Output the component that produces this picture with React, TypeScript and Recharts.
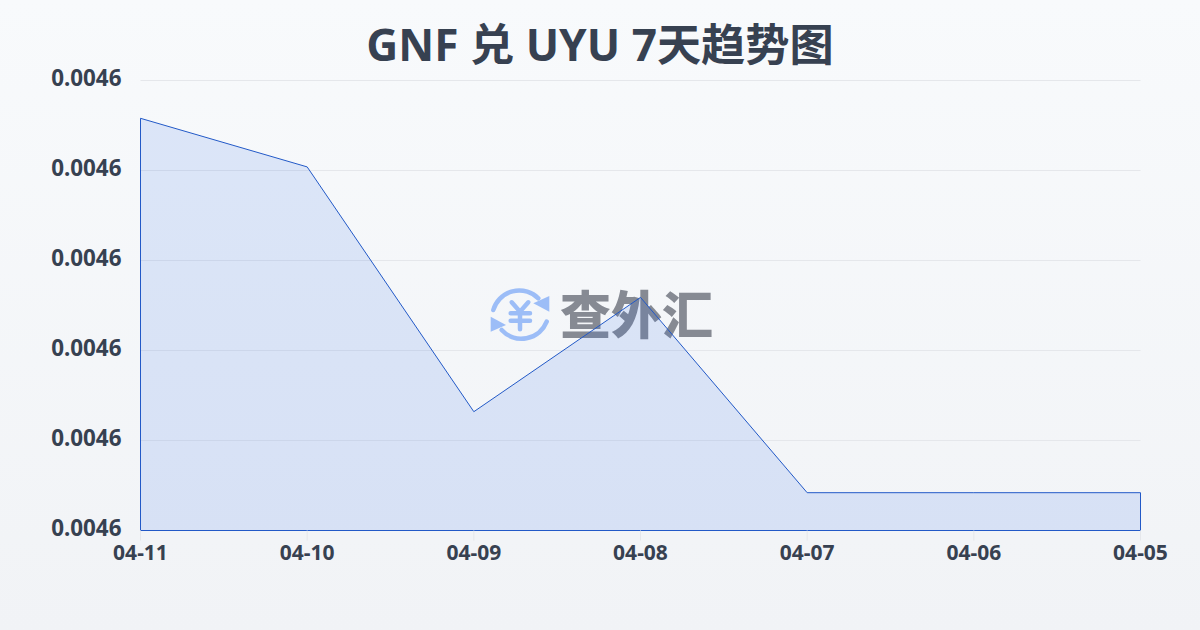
import { Area, AreaChart, CartesianGrid, ReferenceLine, XAxis, YAxis } from "recharts";

const dates = ["04-11", "04-10", "04-09", "04-08", "04-07", "04-06", "04-05"];
const rates = [0.0046058, 0.0046004, 0.0045732, 0.0045859, 0.0045642, 0.0045642, 0.0045642];
const rateTicks = [0.00456, 0.00457, 0.00458, 0.00459, 0.0046, 0.00461];

const data = dates.map((date, i) => ({ date, rate: rates[i] }));

const FONT = "'Noto Sans', 'Noto Sans CJK SC', sans-serif";
const LINE = "#2259c7";
const INK = "#374151";
const yMin = rateTicks[0];
const yMax = rateTicks[rateTicks.length - 1];
const first = data[0];
const last = data[data.length - 1];

function Watermark() {
  const blue = "#9cbdf7";
  return (
    <div style={{ position: "absolute", left: 490, top: 285, width: 230, height: 60 }}>
      <svg width={60} height={60} viewBox="0 0 60 60" style={{ position: "absolute", left: 0, top: 0 }}>
        <g fill="none" stroke={blue} strokeWidth={4.5} strokeLinecap="round">
          <path d="M3.3 25 A27 27 0 0 1 48.3 13.3" />
          <path d="M56.7 36.7 A27 27 0 0 1 11.7 45" />
          <path d="M21.7 17.3 L30 26.7 L38.3 17.3 M30 26.7 V44.3 M20.7 28.3 H40 M20.7 35.7 H40" strokeWidth={4.5} />
        </g>
        <path d="M59.3 11 L59.3 26.7 L43.3 18.3 Z" fill={blue} />
        <path d="M0.7 31.7 L0.7 46.7 L16 40 Z" fill={blue} />
      </svg>
      <div
        style={{
          position: "absolute",
          left: 70,
          top: -10,
          fontFamily: "'Noto Sans CJK SC', sans-serif",
          fontWeight: 900,
          fontSize: 51,
          lineHeight: "74px",
          color: "#868a93",
          whiteSpace: "nowrap",
        }}
      >
        查外汇
      </div>
    </div>
  );
}

export default function App() {
  return (
    <div
      style={{
        position: "fixed",
        left: 0,
        top: 0,
        width: 1200,
        height: 630,
        overflow: "hidden",
        background: "linear-gradient(180deg, #f8fafc 0%, #f1f3f6 100%)",
        fontFamily: FONT,
      }}
    >
      <div
        style={{
          position: "absolute",
          left: 0,
          top: 14,
          width: 1200,
          textAlign: "center",
          fontSize: 44.2,
          fontWeight: 700,
          lineHeight: "60px",
          color: INK,
        }}
      >
        GNF 兑 UYU 7天趋势图
      </div>
      <Watermark />
      <div style={{ position: "absolute", left: 0, top: 0 }}>
        <AreaChart width={1200} height={630} data={data} margin={{ top: 80.5, right: 59.5, bottom: 69.5, left: 0.5 }}>
          <CartesianGrid vertical={false} stroke="#e5e7eb" strokeWidth={1} />
          <XAxis
            dataKey="date"
            height={30}
            interval={0}
            axisLine={false}
            tickLine={{ stroke: "#e5e7eb" }}
            tickSize={10}
            tickMargin={5}
            tick={{ fontSize: 21, fontWeight: 700, fill: INK, fontFamily: FONT }}
          />
          <YAxis
            width={140}
            domain={[yMin, yMax]}
            ticks={rateTicks}
            axisLine={false}
            tickLine={false}
            tickSize={0}
            tickMargin={19}
            tickFormatter={(v: number) => v.toFixed(4)}
            tick={{ fontSize: 22.4, fontWeight: 700, fill: INK, fontFamily: FONT, dy: -2 }}
          />
          <Area
            dataKey="rate"
            type="linear"
            baseValue={yMin}
            stroke={LINE}
            strokeWidth={1}
            fill="#2563eb"
            fillOpacity={0.13}
            isAnimationActive={false}
            dot={false}
            activeDot={false}
          />
          <ReferenceLine
            segment={[{ x: first.date, y: yMin }, { x: first.date, y: first.rate }]}
            stroke={LINE}
            strokeWidth={1}
          />
          <ReferenceLine
            segment={[{ x: first.date, y: yMin }, { x: last.date, y: yMin }]}
            stroke={LINE}
            strokeWidth={1}
          />
          <ReferenceLine
            segment={[{ x: last.date, y: yMin }, { x: last.date, y: last.rate }]}
            stroke={LINE}
            strokeWidth={1}
          />
        </AreaChart>
      </div>
    </div>
  );
}
